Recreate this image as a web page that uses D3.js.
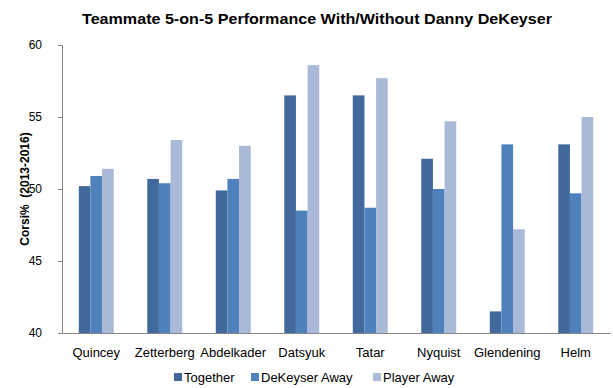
<!DOCTYPE html>
<html>
<head>
<meta charset="utf-8">
<script src="https://cdn.jsdelivr.net/npm/d3@7"></script>
<style>
  body { margin: 0; background: #fff; }
  text { font-family: "Liberation Sans", Arial, sans-serif; }
</style>
</head>
<body>
<div class="canvas"></div>
<script>
// data
const players = ['Quincey', 'Zetterberg', 'Abdelkader', 'Datsyuk', 'Tatar', 'Nyquist', 'Glendening', 'Helm'];
const seriesNames = ['Together', 'DeKeyser Away', 'Player Away'];
const together = [50.2, 50.7, 49.9, 56.5, 56.5, 52.1, 41.5, 53.1];
const dekeyserAway = [50.9, 50.4, 50.7, 48.5, 48.7, 50.0, 53.1, 49.7];
const playerAway = [51.4, 53.4, 53.0, 58.6, 57.7, 54.7, 47.2, 55.0];
const yTicks = [40, 45, 50, 55, 60];

const colors = ['#41699B', '#4F81BD', '#AAB9D7'];
const seriesValues = [together, dekeyserAway, playerAway];

const width = 613, height = 388;
const margin = { top: 45, right: 3, bottom: 55, left: 62 };
const graphWidth = width - margin.left - margin.right;
const graphHeight = height - margin.top - margin.bottom;

const svg = d3.select('.canvas')
    .append('svg')
    .attr('width', width)
    .attr('height', height);

const graph = svg.append('g')
    .attr('transform', `translate(${margin.left},${margin.top})`);

const y = d3.scaleLinear()
    .domain([40, 60])
    .range([graphHeight, 0]);

const x0 = d3.scaleBand()
    .domain(players)
    .range([0, graphWidth])
    .paddingInner(0.49)
    .paddingOuter(0.245);

const x1 = d3.scaleBand()
    .domain(seriesNames)
    .range([0, x0.bandwidth()]);

// bars
const groups = graph.selectAll('g.player')
    .data(players)
    .enter()
    .append('g')
    .attr('class', 'player')
    .attr('transform', d => `translate(${x0(d)},0)`);

groups.selectAll('rect')
    .data((p, i) => seriesNames.map((s, j) => ({ s, j, v: seriesValues[j][i] })))
    .enter()
    .append('rect')
    .attr('x', d => x1(d.s))
    .attr('width', x1.bandwidth())
    .attr('y', d => y(d.v))
    .attr('height', d => graphHeight - y(d.v))
    .attr('fill', d => colors[d.j]);

// axes
const yAxis = d3.axisLeft(y).tickValues(yTicks).tickSize(4).tickPadding(16);
const yAxisGroup = graph.append('g').call(yAxis);
yAxisGroup.select('.domain').attr('stroke', '#868686');
yAxisGroup.selectAll('.tick line').attr('stroke', '#868686');
yAxisGroup.selectAll('text')
    .attr('font-size', 12)
    .attr('fill', '#000')
    .style('font-family', '"Liberation Sans", Arial, sans-serif');

const xAxis = d3.axisBottom(x0).tickSize(0).tickPadding(15);
const xAxisGroup = graph.append('g')
    .attr('transform', `translate(0,${graphHeight})`)
    .call(xAxis);
xAxisGroup.select('.domain').attr('stroke', '#868686');
xAxisGroup.selectAll('text')
    .attr('font-size', 13)
    .attr('fill', '#000')
    .style('font-family', '"Liberation Sans", Arial, sans-serif');

// title
svg.append('text')
    .attr('x', 317)
    .attr('y', 24)
    .attr('text-anchor', 'middle')
    .attr('font-size', 15)
    .attr('font-weight', 'bold')
    .attr('textLength', 470)
    .attr('lengthAdjust', 'spacingAndGlyphs')
    .text('Teammate 5-on-5 Performance With/Without Danny DeKeyser');

// y label
svg.append('text')
    .attr('transform', 'translate(29,189) rotate(-90)')
    .attr('text-anchor', 'middle')
    .attr('font-size', 12)
    .attr('font-weight', 'bold')
    .attr('xml:space', 'preserve')
    .text('Corsi%  (2013-2016)');

// legend
const legendX = [174, 251, 373];
const legend = svg.selectAll('g.legend')
    .data(seriesNames)
    .enter()
    .append('g')
    .attr('class', 'legend')
    .attr('transform', (d, i) => `translate(${legendX[i]},373)`);

legend.append('rect')
    .attr('width', 8)
    .attr('height', 8)
    .attr('fill', (d, i) => colors[i]);

legend.append('text')
    .attr('x', 10)
    .attr('y', 9)
    .attr('font-size', 13)
    .text(d => d);
</script>
</body>
</html>
